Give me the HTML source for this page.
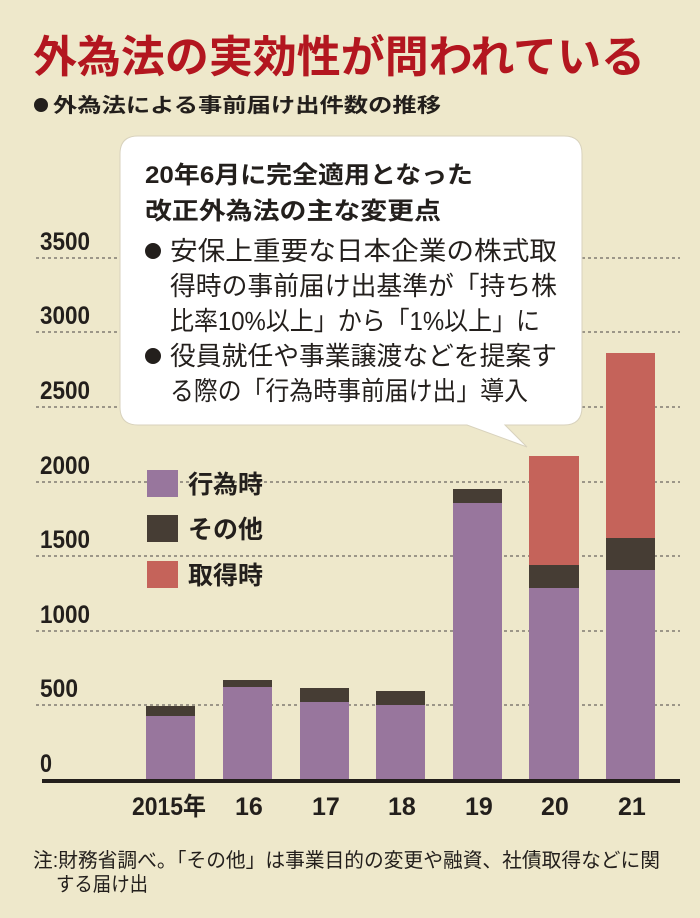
<!DOCTYPE html>
<html><head><meta charset="utf-8"><style>
html,body{margin:0;padding:0;background:#eee8cb}
svg{display:block}
text{font-family:"Liberation Sans","Noto Sans CJK JP",sans-serif}
.n{font-family:"Liberation Sans Narrow","Liberation Sans","Noto Sans CJK JP",sans-serif;font-weight:bold;fill:#231f1c}
</style></head><body>
<svg width="700" height="918" viewBox="0 0 700 918" xmlns="http://www.w3.org/2000/svg">
<rect width="700" height="918" fill="#eee8cb"/>
<text x="33" y="72" font-size="44" font-weight="bold" fill="#b3161f" textLength="612" lengthAdjust="spacingAndGlyphs">外為法の実効性が問われている</text>
<circle cx="41" cy="105" r="7" fill="#231f1c"/>
<text x="53" y="112" font-size="20" font-weight="bold" fill="#231f1c" textLength="388" lengthAdjust="spacingAndGlyphs">外為法による事前届け出件数の推移</text>
<g stroke="#6b6660" stroke-width="1.3" stroke-dasharray="3,3">
<line x1="36" x2="680" y1="258" y2="258"/><line x1="36" x2="680" y1="332" y2="332"/>
<line x1="36" x2="680" y1="407" y2="407"/><line x1="36" x2="680" y1="482" y2="482"/>
<line x1="36" x2="680" y1="556" y2="556"/><line x1="36" x2="680" y1="631" y2="631"/>
<line x1="36" x2="680" y1="705" y2="705"/>
</g>
<g class="n" font-size="25">
<text x="40" y="250" textLength="50" lengthAdjust="spacingAndGlyphs">3500</text>
<text x="40" y="324" textLength="50" lengthAdjust="spacingAndGlyphs">3000</text>
<text x="40" y="399" textLength="50" lengthAdjust="spacingAndGlyphs">2500</text>
<text x="40" y="474" textLength="50" lengthAdjust="spacingAndGlyphs">2000</text>
<text x="40" y="548" textLength="50" lengthAdjust="spacingAndGlyphs">1500</text>
<text x="40" y="623" textLength="50" lengthAdjust="spacingAndGlyphs">1000</text>
<text x="40" y="697" textLength="38" lengthAdjust="spacingAndGlyphs">500</text>
<text x="40" y="772" textLength="12" lengthAdjust="spacingAndGlyphs">0</text>
</g>
<g>
<rect x="146" y="716" width="49" height="64" fill="#98769d"/><rect x="146" y="706" width="49" height="10" fill="#463d34"/>
<rect x="223" y="687" width="49" height="93" fill="#98769d"/><rect x="223" y="680" width="49" height="7" fill="#463d34"/>
<rect x="300" y="702" width="49" height="78" fill="#98769d"/><rect x="300" y="688" width="49" height="14" fill="#463d34"/>
<rect x="376" y="705" width="49" height="75" fill="#98769d"/><rect x="376" y="691" width="49" height="14" fill="#463d34"/>
<rect x="453" y="503" width="49" height="277" fill="#98769d"/><rect x="453" y="489" width="49" height="14" fill="#463d34"/>
<rect x="529" y="588" width="50" height="192" fill="#98769d"/><rect x="529" y="565" width="50" height="23" fill="#463d34"/><rect x="529" y="456" width="50" height="109" fill="#c5635a"/>
<rect x="606" y="570" width="49" height="210" fill="#98769d"/><rect x="606" y="538" width="49" height="32" fill="#463d34"/><rect x="606" y="353" width="49" height="185" fill="#c5635a"/>
</g>
<rect x="42" y="779" width="638" height="4" fill="#231f1c"/>
<g class="n" font-size="25">
<text x="132" y="815" textLength="74" lengthAdjust="spacingAndGlyphs">2015年</text>
<text x="235" y="815">16</text><text x="312" y="815">17</text><text x="388" y="815">18</text>
<text x="465" y="815">19</text><text x="541" y="815">20</text><text x="618" y="815">21</text>
</g>
<rect x="147" y="470" width="31" height="27" fill="#98769d"/>
<rect x="147" y="515" width="31" height="27" fill="#463d34"/>
<rect x="147" y="561" width="31" height="27" fill="#c5635a"/>
<g font-size="25" font-weight="bold" fill="#231f1c">
<text x="188" y="493">行為時</text><text x="188" y="538">その他</text><text x="188" y="584">取得時</text>
</g>
<path d="M138 136 H564 Q582 136 582 154 V407 Q582 425 564 425 H505 L527 447 L467 425 H138 Q120 425 120 407 V154 Q120 136 138 136 Z" fill="#ffffff" stroke="#d8d2bd" stroke-width="1"/>
<g font-weight="bold" fill="#231f1c" font-size="24">
<text x="145" y="183" textLength="328" lengthAdjust="spacingAndGlyphs">20年6月に完全適用となった</text>
<text x="145" y="219" textLength="296" lengthAdjust="spacingAndGlyphs">改正外為法の主な変更点</text>
</g>
<circle cx="153" cy="251" r="8" fill="#231f1c"/>
<circle cx="153" cy="356" r="8" fill="#231f1c"/>
<g fill="#231f1c" font-size="26">
<text x="170" y="260" textLength="387" lengthAdjust="spacingAndGlyphs">安保上重要な日本企業の株式取</text>
<text x="170" y="295" textLength="387" lengthAdjust="spacingAndGlyphs">得時の事前届け出基準が「持ち株</text>
<text x="170" y="330" textLength="370" lengthAdjust="spacingAndGlyphs">比率10%以上」から「1%以上」に</text>
<text x="170" y="365" textLength="387" lengthAdjust="spacingAndGlyphs">役員就任や事業譲渡などを提案す</text>
<text x="170" y="400" textLength="358" lengthAdjust="spacingAndGlyphs">る際の「行為時事前届け出」導入</text>
</g>
<g fill="#231f1c" font-size="20">
<text x="33" y="867" textLength="627" lengthAdjust="spacingAndGlyphs">注:財務省調べ。「その他」は事業目的の変更や融資、社債取得などに関</text>
<text x="56" y="891" textLength="92" lengthAdjust="spacingAndGlyphs">する届け出</text>
</g>
</svg>
</body></html>
